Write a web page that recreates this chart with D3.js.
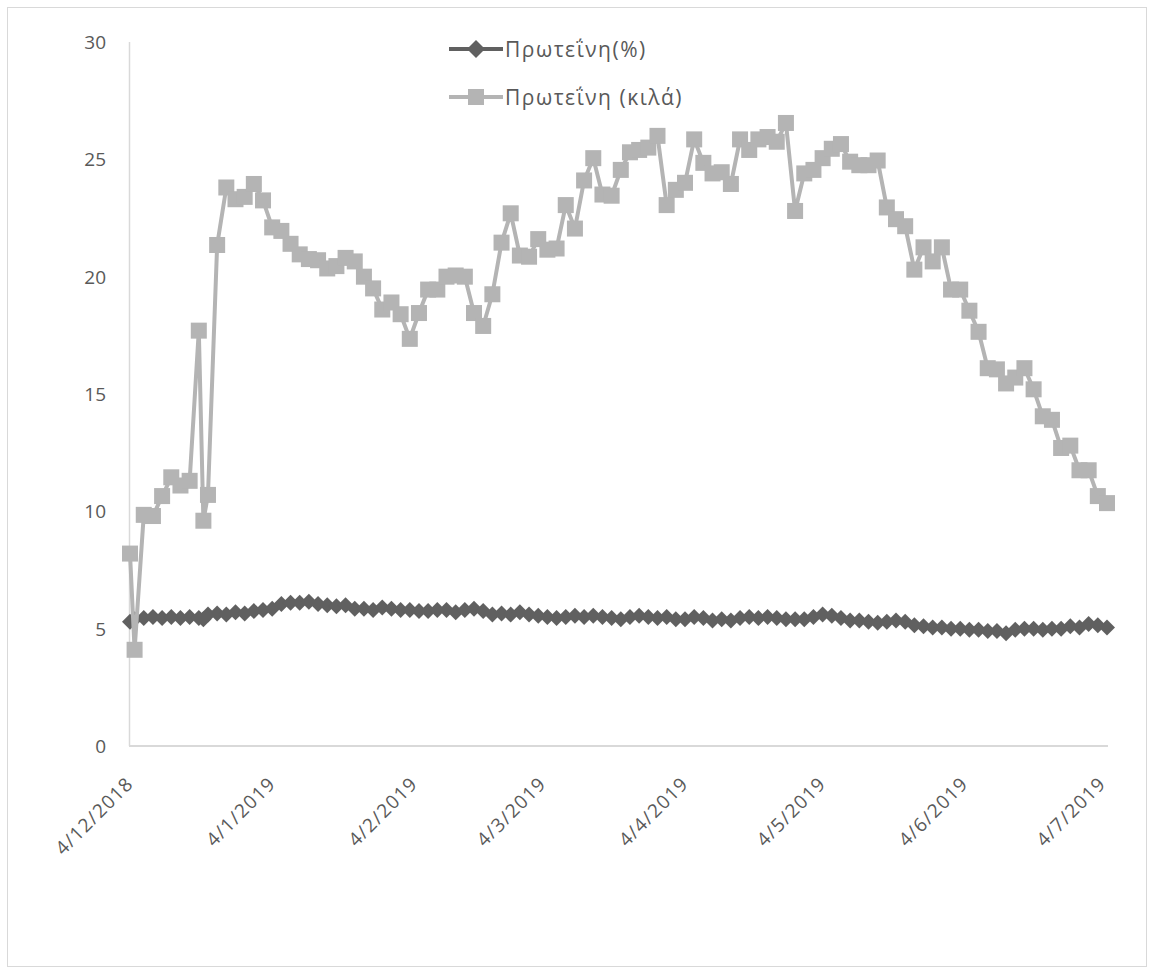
<!DOCTYPE html>
<html>
<head>
<meta charset="utf-8">
<script src="https://cdn.jsdelivr.net/npm/d3@7/dist/d3.min.js"></script>
<style>
  html, body { margin: 0; padding: 0; background: #ffffff; }
  svg { display: block; }
  text { font-family: "Open Sans", "Noto Sans", sans-serif; fill: #595959; }
</style>
</head>
<body>
<svg id="chart" width="1154" height="974"></svg>
<script>
// Sample dates (every second day, with two extra early readings)
const sampleDates = [
  "2018-12-04","2018-12-05","2018-12-07","2018-12-09","2018-12-11","2018-12-13","2018-12-15","2018-12-17","2018-12-19","2018-12-20","2018-12-21",
  "2018-12-23","2018-12-25","2018-12-27","2018-12-29","2018-12-31","2019-01-02","2019-01-04","2019-01-06","2019-01-08","2019-01-10",
  "2019-01-12","2019-01-14","2019-01-16","2019-01-18","2019-01-20","2019-01-22","2019-01-24","2019-01-26","2019-01-28","2019-01-30",
  "2019-02-01","2019-02-03","2019-02-05","2019-02-07","2019-02-09","2019-02-11","2019-02-13","2019-02-15","2019-02-17","2019-02-19",
  "2019-02-21","2019-02-23","2019-02-25","2019-02-27","2019-03-01","2019-03-03","2019-03-05","2019-03-07","2019-03-09","2019-03-11",
  "2019-03-13","2019-03-15","2019-03-17","2019-03-19","2019-03-21","2019-03-23","2019-03-25","2019-03-27","2019-03-29","2019-03-31",
  "2019-04-02","2019-04-04","2019-04-06","2019-04-08","2019-04-10","2019-04-12","2019-04-14","2019-04-16","2019-04-18","2019-04-20",
  "2019-04-22","2019-04-24","2019-04-26","2019-04-28","2019-04-30","2019-05-02","2019-05-04","2019-05-06","2019-05-08","2019-05-10",
  "2019-05-12","2019-05-14","2019-05-16","2019-05-18","2019-05-20","2019-05-22","2019-05-24","2019-05-26","2019-05-28","2019-05-30",
  "2019-06-01","2019-06-03","2019-06-05","2019-06-07","2019-06-09","2019-06-11","2019-06-13","2019-06-15","2019-06-17","2019-06-19",
  "2019-06-21","2019-06-23","2019-06-25","2019-06-27","2019-06-29","2019-07-01","2019-07-03","2019-07-05"
];

// Protein content (%)
const proteinPct = [
  5.3, 5.4, 5.45, 5.5, 5.45, 5.5, 5.45, 5.5, 5.45, 5.4, 5.6,
  5.65, 5.6, 5.7, 5.65, 5.75, 5.8, 5.85, 6.05, 6.1, 6.1,
  6.15, 6.05, 6.0, 5.95, 6.0, 5.85, 5.85, 5.8, 5.9, 5.85,
  5.8, 5.8, 5.75, 5.75, 5.8, 5.8, 5.7, 5.8, 5.85, 5.75,
  5.6, 5.65, 5.6, 5.7, 5.6, 5.55, 5.5, 5.45, 5.5, 5.55,
  5.5, 5.55, 5.5, 5.45, 5.4, 5.5, 5.55, 5.5, 5.45, 5.5,
  5.4, 5.4, 5.5, 5.45, 5.35, 5.4, 5.35, 5.45, 5.5, 5.45,
  5.5, 5.45, 5.4, 5.4, 5.4, 5.5, 5.6, 5.55, 5.45, 5.35,
  5.35, 5.3, 5.25, 5.3, 5.35, 5.3, 5.15, 5.1, 5.05, 5.05,
  5.0, 5.0, 4.95, 4.95, 4.9, 4.9, 4.8, 4.95, 5.0, 5.0,
  4.95, 5.0, 5.0, 5.1, 5.05, 5.2, 5.15, 5.05
];

// Protein amount (kg)
const proteinKg = [
  8.2, 4.1, 9.85, 9.8, 10.65, 11.45, 11.1, 11.3, 17.7, 9.6, 10.7,
  21.35, 23.8, 23.3, 23.4, 23.95, 23.25, 22.1, 21.95, 21.4, 20.95,
  20.75, 20.7, 20.35, 20.45, 20.8, 20.65, 20.0, 19.5, 18.6, 18.9,
  18.4, 17.35, 18.45, 19.45, 19.45, 20.0, 20.05, 20.0, 18.45, 17.9,
  19.25, 21.45, 22.7, 20.9, 20.85, 21.6, 21.15, 21.2, 23.05, 22.05,
  24.1, 25.05, 23.5, 23.45, 24.55, 25.3, 25.4, 25.5, 26.0, 23.05,
  23.7, 24.0, 25.85, 24.85, 24.4, 24.45, 23.95, 25.85, 25.4, 25.85,
  25.95, 25.75, 26.55, 22.8, 24.4, 24.55, 25.05, 25.45, 25.65, 24.9,
  24.75, 24.75, 24.95, 22.95, 22.45, 22.15, 20.3, 21.25, 20.65, 21.25,
  19.45, 19.45, 18.55, 17.65, 16.1, 16.05, 15.45, 15.7, 16.1, 15.2,
  14.05, 13.9, 12.7, 12.8, 11.75, 11.75, 10.65, 10.35
];

const seriesNames = ["Πρωτεΐνη(%)", "Πρωτεΐνη (κιλά)"];
const tickDates = ["2018-12-04","2019-01-04","2019-02-04","2019-03-04","2019-04-04","2019-05-04","2019-06-04","2019-07-04"];
const yTicks = [0, 5, 10, 15, 20, 25, 30];

const parse = d3.timeParse("%Y-%m-%d");
const fmt = d3.timeFormat("%-d/%-m/%Y");
const dates = sampleDates.map(parse);

const svg = d3.select("#chart");
const colPct = "#606060", colKg = "#b4b4b4", axisCol = "#d9d9d9";

// outer chart border
svg.append("rect").attr("x", 7.5).attr("y", 7.5).attr("width", 1139).attr("height", 959)
  .attr("fill", "#fff").attr("stroke", axisCol).attr("stroke-width", 1);

const x = d3.scaleTime().domain(d3.extent(dates)).range([130, 1107]);
const y = d3.scaleLinear().domain([0, 30]).range([746, 42]);

// value axis
svg.append("line").attr("x1", 129.5).attr("x2", 129.5).attr("y1", y(30)).attr("y2", y(0))
  .attr("stroke", axisCol).attr("stroke-width", 1.5);
svg.append("g").selectAll("text").data(yTicks).join("text")
  .attr("x", 106).attr("y", d => y(d)).attr("text-anchor", "end")
  .attr("dominant-baseline", "central").attr("font-size", 19).text(d => d);

// date axis
const xAxis = d3.axisBottom(x).tickValues(tickDates.map(parse)).tickSize(0).tickFormat(fmt);
const gx = svg.append("g").attr("transform", `translate(0,${y(0)})`).call(xAxis);
gx.select(".domain").attr("stroke", axisCol).attr("stroke-width", 2)
  .attr("d", `M129,0H1108`);
gx.selectAll(".tick text")
  .attr("font-size", 19).attr("fill", "#595959")
  .attr("font-family", "Open Sans, Noto Sans, sans-serif")
  .attr("letter-spacing", 1.2)
  .attr("text-anchor", "end").attr("dy", 0).attr("y", 0)
  .attr("transform", "translate(4,39) rotate(-45)");

// series lines
const line = v => d3.line().x((d, i) => x(dates[i])).y(d => y(d))(v);
const diamond = s => `M0,${-s}L${s},0L0,${s}L${-s},0Z`;

svg.append("path").attr("d", line(proteinPct)).attr("fill", "none")
  .attr("stroke", colPct).attr("stroke-width", 4).attr("stroke-linejoin", "round");
svg.append("g").selectAll("path").data(proteinPct).join("path")
  .attr("transform", (d, i) => `translate(${x(dates[i])},${y(d)})`)
  .attr("d", diamond(8)).attr("fill", colPct);

svg.append("path").attr("d", line(proteinKg)).attr("fill", "none")
  .attr("stroke", colKg).attr("stroke-width", 4).attr("stroke-linejoin", "round");
svg.append("g").selectAll("rect").data(proteinKg).join("rect")
  .attr("x", (d, i) => x(dates[i]) - 8).attr("y", d => y(d) - 8)
  .attr("width", 16).attr("height", 16).attr("fill", colKg);

// legend
const legend = [
  { name: seriesNames[0], color: colPct, marker: "diamond", y: 49 },
  { name: seriesNames[1], color: colKg, marker: "square", y: 97 }
];
const lg = svg.append("g").selectAll("g").data(legend).join("g")
  .attr("transform", d => `translate(0,${d.y})`);
lg.append("line").attr("x1", 449).attr("x2", 503).attr("y1", 0).attr("y2", 0)
  .attr("stroke", d => d.color).attr("stroke-width", 4);
lg.filter(d => d.marker === "diamond").append("path")
  .attr("transform", "translate(476,0)").attr("d", diamond(9)).attr("fill", d => d.color);
lg.filter(d => d.marker === "square").append("rect")
  .attr("x", 468).attr("y", -8).attr("width", 16).attr("height", 16).attr("fill", d => d.color);
lg.append("text").attr("x", 505).attr("y", 0).attr("dominant-baseline", "central")
  .attr("font-size", 21).attr("letter-spacing", 1.5).text(d => d.name);
</script>
</body>
</html>
